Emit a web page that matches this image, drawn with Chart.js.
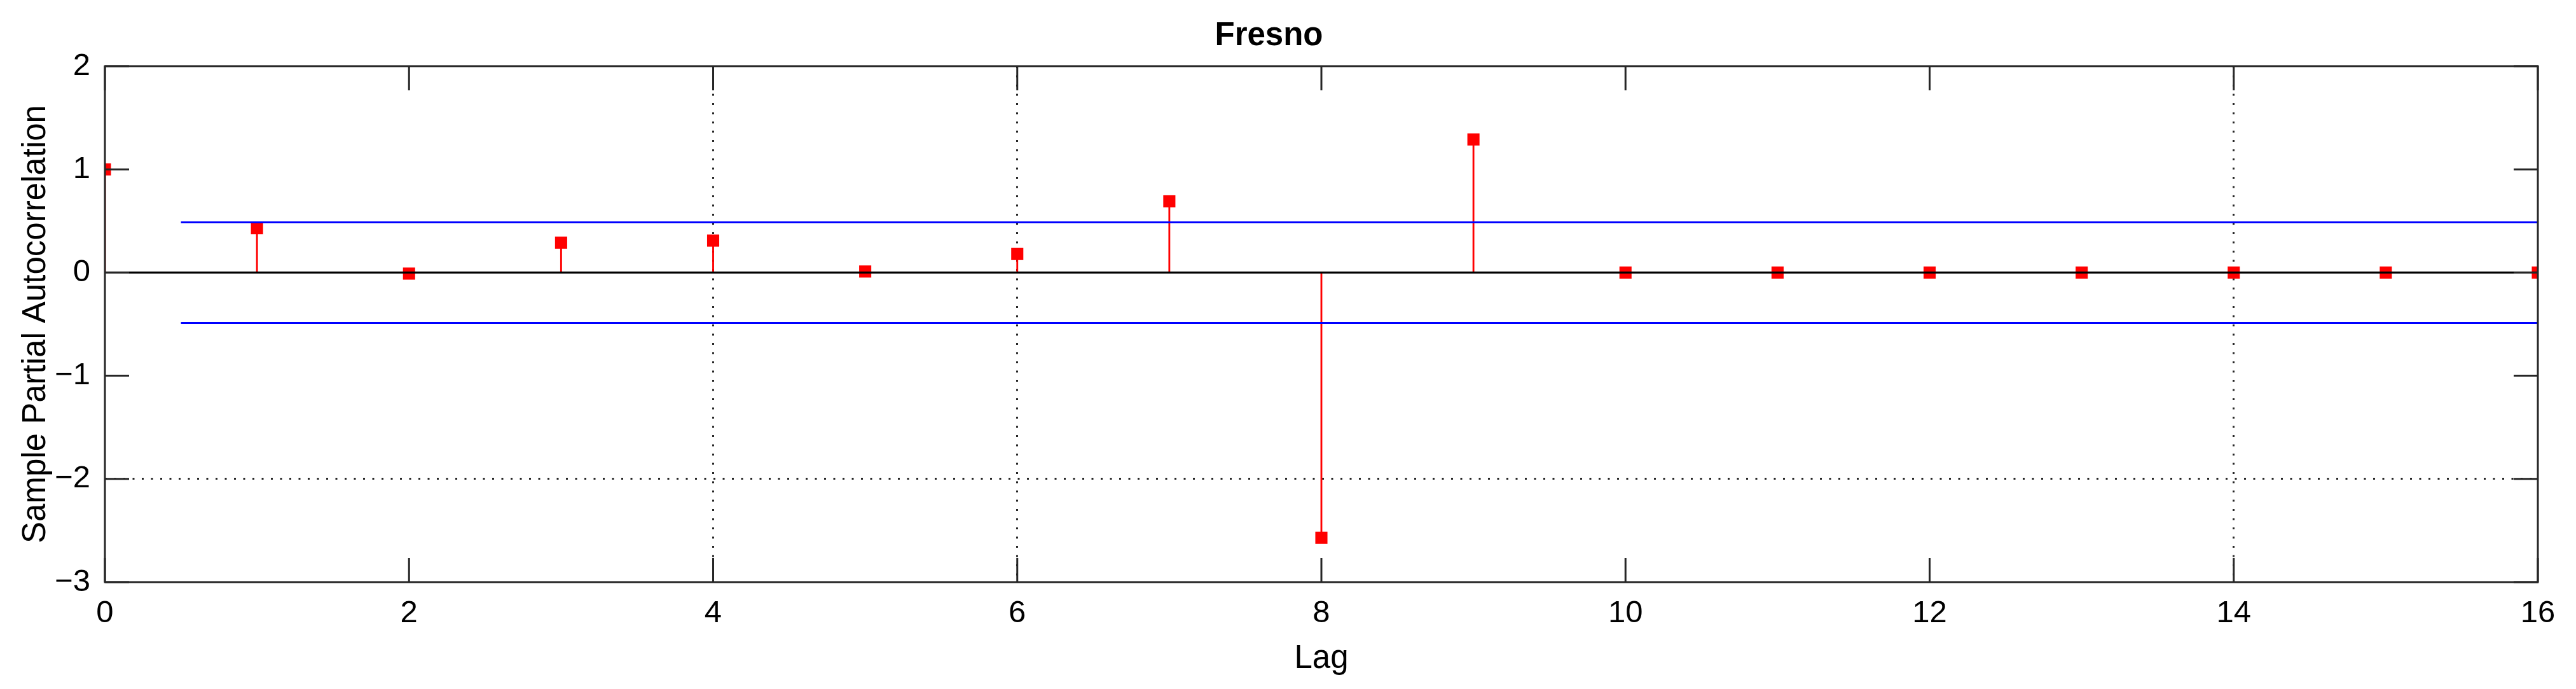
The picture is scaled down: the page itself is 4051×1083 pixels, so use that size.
<!DOCTYPE html>
<html>
<head>
<meta charset="utf-8">
<script src="https://cdn.jsdelivr.net/npm/chart.js@4/dist/chart.umd.min.js"></script>
<style>
  html, body { margin: 0; padding: 0; background: #ffffff; }
  #wrap { width: 4051px; height: 1083px; }
</style>
</head>
<body>
<div id="wrap"><canvas id="c" width="4051" height="1083"></canvas></div>
<script>
// ---- data ----
const chartTitle = 'Fresno';
const xAxisLabel = 'Lag';
const yAxisLabel = 'Sample Partial Autocorrelation';
const lags = [0, 1, 2, 3, 4, 5, 6, 7, 8, 9, 10, 11, 12, 13, 14, 15, 16];
const pacf = [1.0, 0.43, -0.01, 0.29, 0.31, 0.01, 0.18, 0.69, -2.57, 1.29, 0, 0, 0, 0, 0, 0, 0];
const confBound = 0.487;
const boundLags = [0.5, 16];
const xTicks = [0, 2, 4, 6, 8, 10, 12, 14, 16];
const yTicks = [-3, -2, -1, 0, 1, 2];
const xGridAt = [4, 6, 14];
const yGridAt = [-2];

const FONT = '"Liberation Sans", Arial, Helvetica, sans-serif';
const INK = '#262626';

const stemData = lags.map((l, i) => ({ x: l, y: pacf[i] }));
const upperData = boundLags.map(l => ({ x: l, y: confBound }));
const lowerData = boundLags.map(l => ({ x: l, y: -confBound }));
const zeroData = [{ x: lags[0], y: 0 }, { x: lags[lags.length - 1], y: 0 }];

const fmt = v => (v < 0 ? '\u2212' + Math.abs(v) : String(v));

const framePlugin = {
  id: 'frame',
  afterDraw(chart) {
    const { ctx, chartArea: a, scales: { x, y } } = chart;
    const tl = 38;
    ctx.save();
    ctx.strokeStyle = INK;
    ctx.lineWidth = 3;
    ctx.beginPath();
    xTicks.forEach(v => {
      const px = x.getPixelForValue(v);
      ctx.moveTo(px, a.bottom); ctx.lineTo(px, a.bottom - tl);
      ctx.moveTo(px, a.top); ctx.lineTo(px, a.top + tl);
    });
    yTicks.forEach(v => {
      const py = y.getPixelForValue(v);
      ctx.moveTo(a.left, py); ctx.lineTo(a.left + tl, py);
      ctx.moveTo(a.right, py); ctx.lineTo(a.right - tl, py);
    });
    ctx.stroke();
    ctx.strokeRect(a.left, a.top, a.right - a.left, a.bottom - a.top);
    ctx.restore();
  }
};

new Chart(document.getElementById('c'), {
  type: 'scatter',
  data: {
    datasets: [
      {
        type: 'line', label: 'zero', data: zeroData,
        borderColor: '#000000', borderWidth: 3.2, pointRadius: 0, order: 0
      },
      {
        type: 'line', label: 'upper', data: upperData,
        borderColor: '#0000ff', borderWidth: 3, pointRadius: 0, order: 0
      },
      {
        type: 'line', label: 'lower', data: lowerData,
        borderColor: '#0000ff', borderWidth: 3, pointRadius: 0, order: 0
      },
      {
        type: 'scatter', label: 'markers', data: stemData,
        pointStyle: 'rect', pointRadius: 13.5, pointBackgroundColor: '#ff0000',
        pointBorderWidth: 0, borderColor: '#ff0000', order: 1
      },
      {
        type: 'bar', label: 'stems', data: stemData,
        backgroundColor: '#ff0000', borderWidth: 0, barThickness: 2.2, grouped: false, order: 2
      }
    ]
  },
  options: {
    responsive: false,
    animation: false,
    devicePixelRatio: 1,
    layout: { padding: { left: 0, right: 60, top: 0, bottom: 0 } },
    plugins: {
      legend: { display: false },
      tooltip: { enabled: false },
      title: {
        display: true, text: chartTitle, color: '#000000',
        font: { family: FONT, size: 51, weight: 'bold', lineHeight: 1.2 },
        padding: { top: 26, bottom: 16.8 }
      }
    },
    scales: {
      x: {
        type: 'linear', min: 0, max: 16, offset: false,
        afterBuildTicks: s => { s.ticks = xTicks.map(v => ({ value: v })); },
        afterFit: s => { s.height = 168; },
        ticks: { color: '#000000', padding: 20, font: { family: FONT, size: 49 }, maxRotation: 0, autoSkip: false, callback: v => fmt(v) },
        grid: {
          offset: false, drawTicks: false, lineWidth: 3,
          color: c => (c.tick && xGridAt.includes(c.tick.value)) ? INK : 'rgba(0,0,0,0)'
        },
        border: { display: false, dash: [3, 11.5] },
        title: {
          display: true, text: xAxisLabel, color: '#000000',
          font: { family: FONT, size: 51, lineHeight: 1.2 },
          padding: { top: 0, bottom: 16 }
        }
      },
      y: {
        type: 'linear', min: -3, max: 2, offset: false,
        afterBuildTicks: s => { s.ticks = yTicks.map(v => ({ value: v })); },
        afterFit: s => { s.width = 165; },
        ticks: { color: '#000000', padding: 23, font: { family: FONT, size: 49 }, callback: v => fmt(v) },
        grid: {
          offset: false, drawTicks: false, lineWidth: 3,
          color: c => (c.tick && yGridAt.includes(c.tick.value)) ? INK : 'rgba(0,0,0,0)'
        },
        border: { display: false, dash: [3, 11.5] },
        title: {
          display: true, text: yAxisLabel, color: '#000000',
          font: { family: FONT, size: 51, lineHeight: 1.2 },
          padding: { top: 26, bottom: 0 }
        }
      }
    }
  },
  plugins: [framePlugin]
});
</script>
</body>
</html>
